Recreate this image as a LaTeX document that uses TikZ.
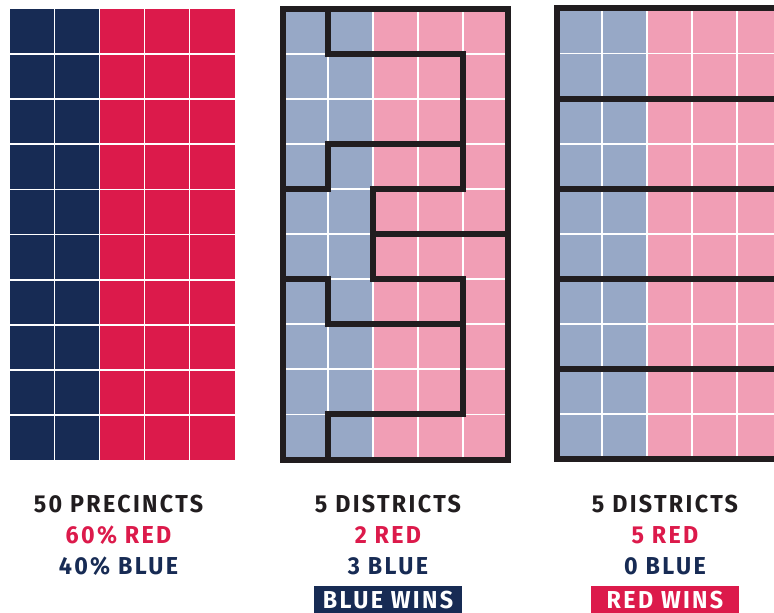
\documentclass[tikz,border=0pt]{standalone}
\usepackage{fontspec}
\setmainfont{Fira Sans}[FakeStretch=0.95, LetterSpace=9.5]
\definecolor{navy}{HTML}{172B54}
\definecolor{crim}{HTML}{DC1A4B}
\definecolor{lblue}{HTML}{97A8C6}
\definecolor{lpink}{HTML}{F19EB5}
\definecolor{ink}{HTML}{211D1F}
\tikzset{
  cellline/.style={white, line width=1.8pt},
  border/.style={draw=ink, line width=6pt, line join=miter, line cap=rect},
  label/.style={font=\fontsize{24.5}{24.5}\selectfont\bfseries, anchor=base, inner sep=0pt},
  winbox/.style={label, text=white, minimum width=148pt, text height=17pt, text depth=6pt, inner ysep=5pt}
}
\begin{document}
\begin{tikzpicture}[x=1pt,y=-1pt]
\useasboundingbox (0,0) rectangle (774,613);
\clip (0,0) rectangle (774,613);
% left grid: precincts
\begin{scope}[shift={(9.5,9)}, x=45pt, y=-45.1pt]
  \fill[navy] (0,0) rectangle (2,10);
  \fill[crim] (2,0) rectangle (5,10);
  \foreach \i in {1,...,4} \draw[cellline] (\i,0) -- (\i,10);
  \foreach \j in {1,...,9} \draw[cellline] (0,\j) -- (5,\j);
\end{scope}
% middle grid: gerrymander for blue
\begin{scope}[shift={(283.3,8.5)}, x=45pt, y=-45.1pt]
  \fill[lblue] (0,0) rectangle (2,10);
  \fill[lpink] (2,0) rectangle (5,10);
  \foreach \i in {1,...,4} \draw[cellline] (\i,0) -- (\i,10);
  \foreach \j in {1,...,9} \draw[cellline] (0,\j) -- (5,\j);
  \draw[border] (1,0) -- (1,1) -- (4,1) -- (4,4) -- (2,4) -- (2,6) -- (4,6) -- (4,9) -- (1,9) -- (1,10);
  \draw[border] (0,4) -- (1,4) -- (1,3) -- (4,3);
  \draw[border] (2,5) -- (5,5);
  \draw[border] (0,6) -- (1,6) -- (1,7) -- (4,7);
  \draw[border] (0,0) rectangle (5,10);
\end{scope}
% right grid: gerrymander for red
\begin{scope}[shift={(556.7,8.3)}, x=45pt, y=-45.1pt]
  \fill[lblue] (0,0) rectangle (2,10);
  \fill[lpink] (2,0) rectangle (5,10);
  \foreach \i in {1,...,4} \draw[cellline] (\i,0) -- (\i,10);
  \foreach \j in {1,...,9} \draw[cellline] (0,\j) -- (5,\j);
  \foreach \j in {2,4,6,8} \draw[border] (0,\j) -- (5,\j);
  \draw[border] (0,0) rectangle (5,10);
\end{scope}
% labels
\node[label, text=ink] (a1) at (118.5,512) {50 PRECINCTS};
\node[label, text=crim] (a2) at (118.5,543.5) {60\% RED};
\node[label, text=navy] (a3) at (118.5,574.5) {40\% BLUE};
\node[label, text=ink] (b1) at (388,512) {5 DISTRICTS};
\node[label, text=crim] (b2) at (388,543.5) {2 RED};
\node[label, text=navy] (b3) at (388,574.5) {3 BLUE};
\node[winbox, fill=navy] (b4) at (388,608) {BLUE WINS};
\node[label, text=ink] (c1) at (665,512) {5 DISTRICTS};
\node[label, text=crim] (c2) at (665,543.5) {5 RED};
\node[label, text=navy] (c3) at (665,574.5) {0 BLUE};
\node[winbox, fill=crim] (c4) at (665,608) {RED WINS};
\end{tikzpicture}
\end{document}
